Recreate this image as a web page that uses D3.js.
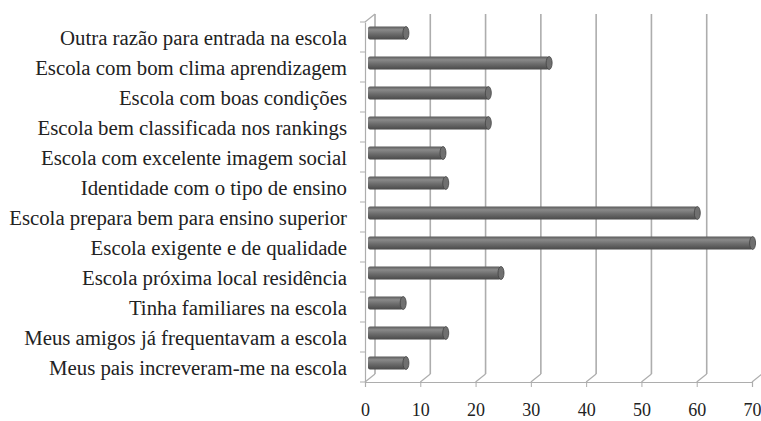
<!DOCTYPE html>
<html>
<head>
<meta charset="utf-8">
<script src="https://cdn.jsdelivr.net/npm/d3@7"></script>
<style>
  body { margin: 0; background: #fff; }
</style>
</head>
<body>
<div id="chart"></div>
<script>
// categories top to bottom, values in %
const categories = [
  "Outra razão para entrada na escola",
  "Escola com bom clima aprendizagem",
  "Escola com boas condições",
  "Escola bem classificada nos rankings",
  "Escola com excelente imagem social",
  "Identidade com o tipo de ensino",
  "Escola prepara bem para ensino superior",
  "Escola exigente e de qualidade",
  "Escola próxima local residência",
  "Tinha familiares na escola",
  "Meus amigos já frequentavam a escola",
  "Meus pais increveram-me na escola"
];
const values = [6.5, 32.4, 21.4, 21.4, 13.2, 13.7, 59.2, 69.2, 23.7, 6.0, 13.7, 6.5];
const ticks = [0, 10, 20, 30, 40, 50, 60, 70];

const width = 761, height = 421;
const dx = 10, dy = -8; // depth offset of the back wall

const svg = d3.select("#chart").append("svg")
  .attr("width", width)
  .attr("height", height);

const x = d3.scaleLinear().domain([0, 70]).range([365, 752]);
const y = d3.scaleBand().domain(categories).range([22, 382]);
const yBottom = y.range()[1];
const yTop = y.range()[0];

const gridColor = "#adadad";

// gradient for the cylinder bars
const defs = svg.append("defs");
const grad = defs.append("linearGradient")
  .attr("id", "barGrad")
  .attr("x1", 0).attr("y1", 0).attr("x2", 0).attr("y2", 1);
grad.append("stop").attr("offset", "0%").attr("stop-color", "#5a5a5a");
grad.append("stop").attr("offset", "25%").attr("stop-color", "#8a8a8a");
grad.append("stop").attr("offset", "55%").attr("stop-color", "#6e6e6e");
grad.append("stop").attr("offset", "100%").attr("stop-color", "#4a4a4a");

// back wall gridlines
svg.selectAll("line.grid")
  .data(ticks)
  .enter()
  .append("line")
    .attr("class", "grid")
    .attr("x1", d => x(d) + dx)
    .attr("x2", d => x(d) + dx)
    .attr("y1", yTop + dy)
    .attr("y2", yBottom + dy)
    .attr("stroke", gridColor)
    .attr("stroke-width", 1.6);

// floor lines (front to back)
svg.selectAll("line.floor")
  .data(ticks)
  .enter()
  .append("line")
    .attr("class", "floor")
    .attr("x1", d => x(d))
    .attr("x2", d => x(d) + dx)
    .attr("y1", yBottom)
    .attr("y2", yBottom + dy)
    .attr("stroke", gridColor)
    .attr("stroke-width", 1.2);

// left wall top edge
svg.append("line")
  .attr("x1", x(0)).attr("y1", yTop)
  .attr("x2", x(0) + dx).attr("y2", yTop + dy)
  .attr("stroke", gridColor)
  .attr("stroke-width", 1.2);

// front axes
const xAxis = d3.axisBottom(x).tickValues(ticks).tickSize(5).tickPadding(16);
const gx = svg.append("g")
  .attr("transform", `translate(0,${yBottom})`)
  .call(xAxis);
gx.select(".domain").attr("stroke", gridColor).attr("stroke-width", 1.2);
gx.selectAll(".tick line").attr("stroke", gridColor);
gx.selectAll(".tick text")
  .attr("font-family", "Liberation Serif")
  .attr("font-size", 18)
  .attr("fill", "#222");

const yAxis = d3.axisLeft(y).tickSize(0).tickPadding(18);
const gy = svg.append("g")
  .attr("transform", `translate(${x(0)},0)`)
  .call(yAxis);
gy.select(".domain").attr("stroke", gridColor).attr("stroke-width", 1.2);
gy.selectAll(".tick text")
  .attr("dy", "0.38em")
  .attr("font-family", "Liberation Serif")
  .attr("font-size", 20.8)
  .attr("fill", "#222");

// band boundary ticks on the left axis
svg.selectAll("line.ytick")
  .data(categories.concat([null]))
  .enter()
  .append("line")
    .attr("class", "ytick")
    .attr("x1", x(0) - 5)
    .attr("x2", x(0))
    .attr("y1", (d, i) => yTop + i * y.step())
    .attr("y2", (d, i) => yTop + i * y.step())
    .attr("stroke", gridColor);

// bars, drawn at half depth
const bh = 13;
const bars = svg.selectAll("g.bar")
  .data(values)
  .enter()
  .append("g")
    .attr("class", "bar");

bars.append("rect")
  .attr("x", x(0) + dx / 2 - 2)
  .attr("y", (d, i) => y(categories[i]) + y.bandwidth() / 2 + dy / 2 - bh / 2)
  .attr("width", d => x(d) - x(0) + 2)
  .attr("height", bh)
  .attr("rx", 2)
  .attr("fill", "url(#barGrad)");

bars.append("ellipse")
  .attr("cx", d => x(d) + dx / 2)
  .attr("cy", (d, i) => y(categories[i]) + y.bandwidth() / 2 + dy / 2)
  .attr("rx", 3)
  .attr("ry", bh / 2)
  .attr("fill", "#707070")
  .attr("stroke", "#444")
  .attr("stroke-width", 0.8);
</script>
</body>
</html>
